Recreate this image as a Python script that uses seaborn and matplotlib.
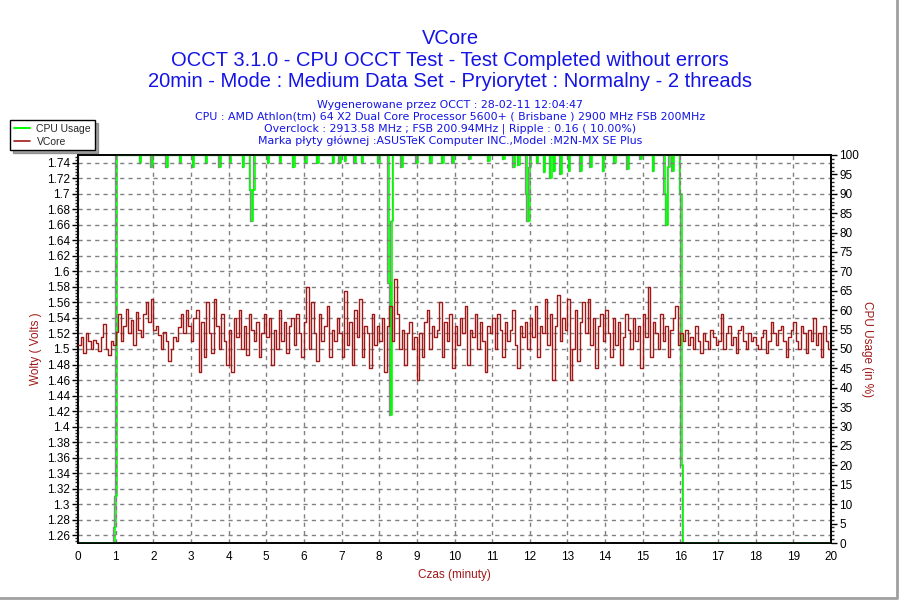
import numpy as np
import pandas as pd
import matplotlib
matplotlib.use("Agg")
import matplotlib.pyplot as plt
import matplotlib.transforms as mtransforms
from matplotlib.ticker import MultipleLocator, AutoMinorLocator
from matplotlib.lines import Line2D
import seaborn as sns

# VCore readings, one every 4 seconds (15 per minute)
vcore = [
    1.505, 1.515, 1.495, 1.52, 1.51, 1.50, 1.512, 1.508, 1.498, 1.515, 1.532, 1.50, 1.492, 1.51, 1.505,
    1.522, 1.545, 1.51, 1.53, 1.552, 1.52, 1.538, 1.505, 1.548, 1.525, 1.515, 1.545, 1.56, 1.535, 1.565,
    1.525, 1.53, 1.518, 1.50, 1.522, 1.51, 1.485, 1.50, 1.515, 1.51, 1.528, 1.545, 1.52, 1.55, 1.53,
    1.51, 1.54, 1.55, 1.47, 1.535, 1.49, 1.56, 1.52, 1.495, 1.565, 1.53, 1.50, 1.545, 1.51, 1.48,
    1.525, 1.47, 1.54, 1.515, 1.55, 1.50, 1.53, 1.492, 1.545, 1.525, 1.51, 1.535, 1.49, 1.52, 1.545,
    1.515, 1.54, 1.48, 1.525, 1.50, 1.55, 1.51, 1.535, 1.495, 1.53, 1.54, 1.505, 1.545, 1.52, 1.49,
    1.535, 1.58, 1.50, 1.56, 1.52, 1.485, 1.545, 1.51, 1.53, 1.555, 1.49, 1.525, 1.51, 1.54, 1.52,
    1.49, 1.575, 1.505, 1.535, 1.48, 1.55, 1.515, 1.565, 1.49, 1.53, 1.52, 1.475, 1.545, 1.505, 1.53,
    1.51, 1.54, 1.47, 1.53, 1.555, 1.51, 1.59, 1.545, 1.50, 1.525, 1.48, 1.52, 1.535, 1.50, 1.515,
    1.46, 1.52, 1.49, 1.535, 1.55, 1.50, 1.53, 1.515, 1.525, 1.56, 1.49, 1.535, 1.51, 1.545, 1.475,
    1.53, 1.505, 1.54, 1.52, 1.555, 1.48, 1.525, 1.515, 1.545, 1.50, 1.535, 1.51, 1.47, 1.53, 1.52,
    1.54, 1.50, 1.545, 1.525, 1.49, 1.535, 1.51, 1.525, 1.55, 1.505, 1.475, 1.53, 1.515, 1.535, 1.50,
    1.54, 1.515, 1.555, 1.49, 1.53, 1.52, 1.565, 1.505, 1.545, 1.46, 1.53, 1.57, 1.51, 1.54, 1.525,
    1.565, 1.46, 1.50, 1.55, 1.485, 1.535, 1.56, 1.52, 1.565, 1.505, 1.54, 1.475, 1.53, 1.545, 1.51,
    1.55, 1.52, 1.49, 1.54, 1.505, 1.535, 1.48, 1.515, 1.545, 1.525, 1.50, 1.54, 1.51, 1.53, 1.475,
    1.545, 1.515, 1.58, 1.49, 1.535, 1.52, 1.50, 1.545, 1.51, 1.53, 1.49, 1.525, 1.54, 1.555, 1.505,
    1.52, 1.51, 1.525, 1.505, 1.515, 1.50, 1.53, 1.51, 1.495, 1.52, 1.51, 1.50, 1.525, 1.515, 1.505,
    1.51, 1.545, 1.50, 1.52, 1.53, 1.505, 1.515, 1.495, 1.525, 1.53, 1.51, 1.50, 1.52, 1.51, 1.515,
    1.505, 1.50, 1.515, 1.525, 1.495, 1.51, 1.535, 1.52, 1.505, 1.525, 1.53, 1.51, 1.49, 1.515, 1.525,
    1.535, 1.51, 1.50, 1.53, 1.52, 1.495, 1.525, 1.51, 1.54, 1.505, 1.52, 1.49, 1.53, 1.51, 1.50,
    1.49,
]
vcore_t = [i * 4 / 60 for i in range(len(vcore))]

# CPU usage change points (minutes, %)
cpu_t = [0, 0.97, 1.0, 1.03, 1.65, 1.68, 1.96, 1.99, 2.36, 2.39, 2.71, 2.74, 3.06, 3.09,
         3.40, 3.43, 3.76, 3.79, 4.04, 4.07, 4.39, 4.42, 4.58, 4.61, 4.66, 4.69,
         5.05, 5.08, 5.37, 5.40, 5.72, 5.75, 6.04, 6.07, 6.36, 6.39, 6.78, 6.81,
         6.95, 6.98, 7.10, 7.13, 7.35, 7.38, 7.55, 7.58, 7.98, 8.01,
         8.25, 8.31, 8.33, 8.37, 8.60, 8.63, 9.00, 9.03, 9.36, 9.39, 9.68, 9.71,
         9.95, 9.98, 10.40, 10.43, 10.90, 10.93, 11.30, 11.33, 11.58, 11.61, 11.70, 11.73,
         11.92, 11.95, 12.00, 12.03, 12.20, 12.23, 12.38, 12.41, 12.55, 12.58, 12.65, 12.68,
         12.82, 12.85, 13.05, 13.08, 13.35, 13.38, 13.62, 13.65, 13.95, 13.98, 14.25, 14.28,
         14.60, 14.63, 14.95, 14.98, 15.28, 15.31, 15.58, 15.62, 15.68, 15.72, 15.80, 15.83,
         16.00, 16.03, 16.07, 20.0]
cpu_v = [0, 4, 12, 100, 98, 100, 97, 100, 97, 100, 98, 100, 97, 100,
         98, 100, 97, 100, 98, 100, 97, 100, 91, 83, 91, 100,
         98, 100, 98, 100, 97, 100, 98, 100, 98, 100, 98, 100,
         98, 100, 98.5, 100, 98, 100, 98, 100, 98, 100,
         67, 33, 83, 100, 97, 100, 98, 100, 98, 100, 98, 100,
         98, 100, 99, 100, 98.5, 100, 99, 100, 97, 100, 97.5, 100,
         90, 83, 97, 100, 98, 100, 95.5, 100, 94, 100, 96, 100,
         95, 100, 96, 100, 96, 100, 97, 100, 96, 100, 98, 100,
         96.5, 100, 99, 100, 96, 100, 90, 82, 97, 100, 96, 100,
         90, 20, 0, 0]

title_lines = ["VCore",
               "OCCT 3.1.0 - CPU OCCT Test - Test Completed without errors",
               "20min - Mode : Medium Data Set - Pryiorytet : Normalny - 2 threads"]
info_lines = ["Wygenerowane przez OCCT : 28-02-11 12:04:47",
              "CPU : AMD Athlon(tm) 64 X2 Dual Core Processor 5600+ ( Brisbane ) 2900 MHz FSB 200MHz",
              "Overclock : 2913.58 MHz ; FSB 200.94MHz | Ripple : 0.16 ( 10.00%)",
              "Marka płyty głównej :ASUSTeK Computer INC.,Model :M2N-MX SE Plus"]

RED = "#a01818"
GREEN = "#00ff00"
BLUE = "#1414e6"

sns.set_style("white")
plt.rcParams["font.family"] = ["Liberation Sans", "DejaVu Sans"]

df_v = pd.DataFrame({"t": vcore_t, "v": vcore})
df_c = pd.DataFrame({"t": cpu_t, "c": cpu_v})

fig = plt.figure(figsize=(9, 6), dpi=100)
ax = fig.add_axes([0.0867, 0.095, 0.8366, 0.6467])
ax2 = ax.twinx()
ax.set_zorder(ax2.get_zorder() + 1)
ax.patch.set_visible(False)
ax2.set_facecolor("#fdf6e6")

sns.lineplot(data=df_v, x="t", y="v", ax=ax, color=RED, linewidth=1.0,
             drawstyle="steps-post", estimator=None, zorder=3)

shadow = mtransforms.offset_copy(ax2.transData, fig=fig, x=-1.5, y=0, units="dots")
ax2.plot(df_c["t"], df_c["c"], color="#8c8c8c", linewidth=1.0,
         drawstyle="steps-post", transform=shadow, zorder=2)
sns.lineplot(data=df_c, x="t", y="c", ax=ax2, color=GREEN, linewidth=1.2,
             drawstyle="steps-post", estimator=None, zorder=3)

ax.set_xlim(0, 20)
ax.set_ylim(1.25, 1.75)
ax2.set_ylim(0, 100)

ax.xaxis.set_major_locator(MultipleLocator(1))
ax.xaxis.set_minor_locator(AutoMinorLocator(4))
ax.yaxis.set_minor_locator(AutoMinorLocator(5))
ax2.yaxis.set_major_locator(MultipleLocator(5))
ax2.yaxis.set_minor_locator(AutoMinorLocator(5))
yt = np.arange(1.26, 1.745, 0.02)
ax.set_yticks(yt)
ax.set_yticklabels([f"{v:.2f}".rstrip("0").rstrip(".") for v in yt])

for a in (ax, ax2):
    a.tick_params(axis="both", which="major", length=4, width=1, labelsize=8.5,
                  colors="black", direction="out", pad=2)
    a.tick_params(axis="both", which="minor", length=2, width=1, direction="out")
    for s in a.spines.values():
        s.set_color("black")
        s.set_linewidth(1.2)
ax.grid(True, which="major", color="#808080", linestyle=(0, (3, 3)), linewidth=1)
ax2.grid(False)

ax.set_xlabel("Czas (minuty)", color=RED, fontsize=8.5, labelpad=4)
ax.set_ylabel("Wolty ( Volts )", color=RED, fontsize=8.5, labelpad=3)
ax2.set_ylabel("CPU Usage (in %)", color=RED, fontsize=8.5, rotation=270, labelpad=10)

for y, txt in zip([0.935, 0.900, 0.864], title_lines):
    fig.text(0.5, y, txt, ha="center", va="center", color=BLUE, fontsize=14.5)
for y, txt in zip([0.825, 0.805, 0.785, 0.765], info_lines):
    fig.text(0.5, y, txt, ha="center", va="center", color=BLUE, fontsize=7.9,
             family=["DejaVu Sans"])

handles = [Line2D([], [], color=GREEN, linewidth=1.4),
           Line2D([], [], color=RED, linewidth=1.2)]
leg = fig.legend(handles, ["CPU Usage", "VCore"], loc="upper left",
                 bbox_to_anchor=(0.011, 0.80), borderaxespad=0, fontsize=7.5,
                 frameon=True, fancybox=False, shadow=True, handlelength=1.6,
                 borderpad=0.35, labelspacing=0.3, handletextpad=0.6)
leg.get_frame().set_edgecolor("black")
leg.get_frame().set_linewidth(1)

fig.add_artist(Line2D([0, 0.997, 0.997], [0.004, 0.004, 1.0], transform=fig.transFigure,
                      color="#a0a0a0", linewidth=2))

fig.savefig("out.png", dpi=100)
